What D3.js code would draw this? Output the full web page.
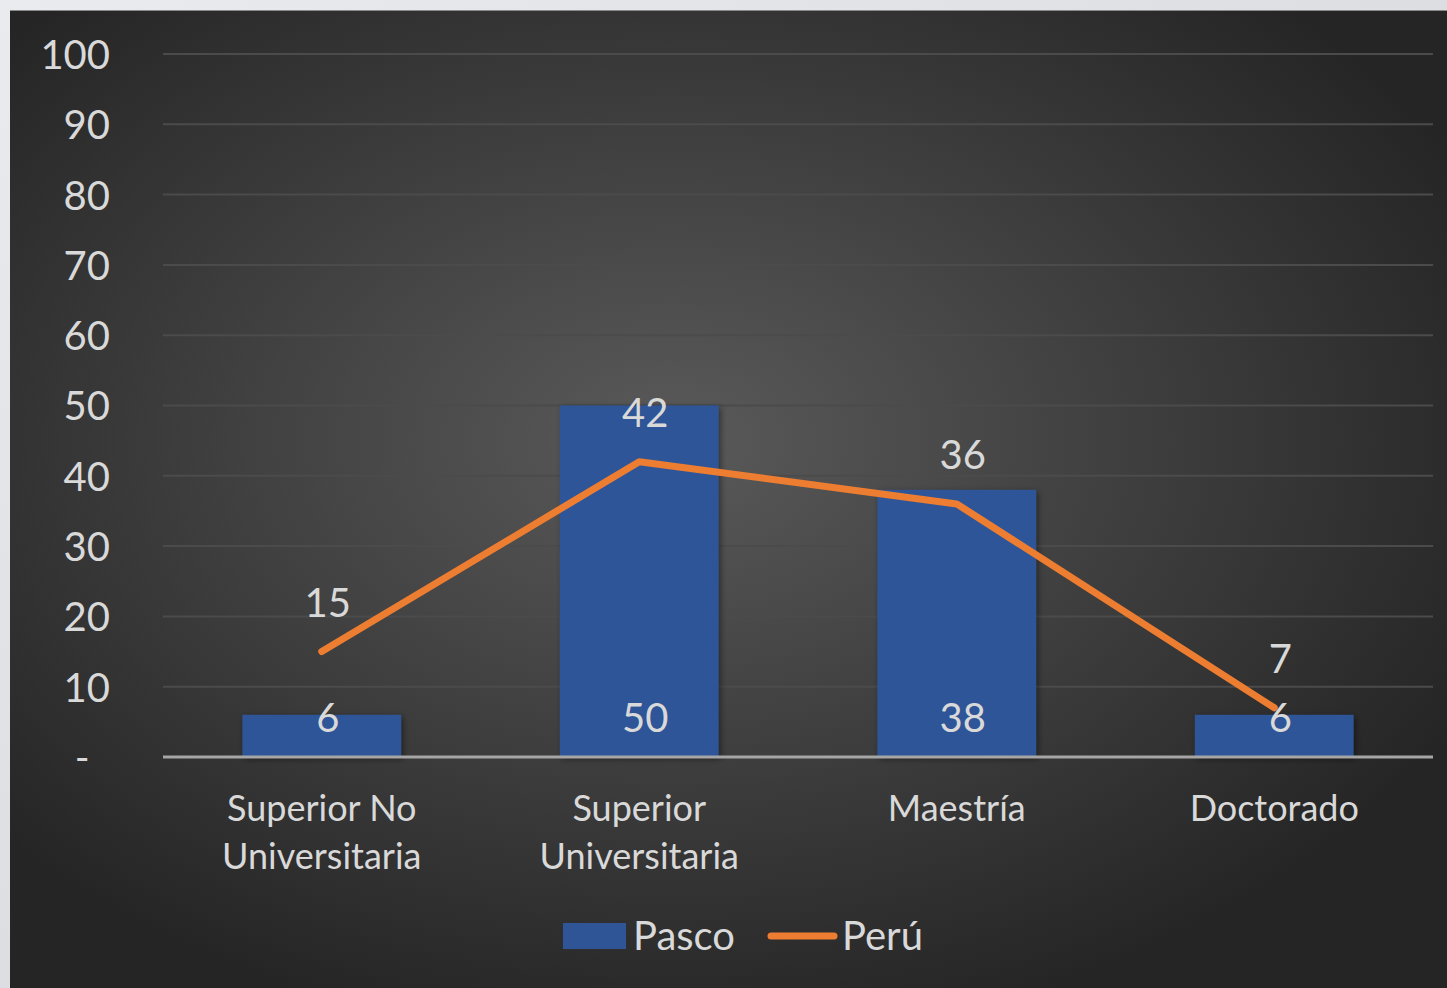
<!DOCTYPE html>
<html>
<head>
<meta charset="utf-8">
<script src="https://cdn.jsdelivr.net/npm/d3@7"></script>
<style>
  html, body { margin: 0; padding: 0; background: #e3e5e9; }
  svg { display: block; }
  text { font-family: Lato, "Open Sans", sans-serif; fill: #d9d9d9; }
</style>
</head>
<body>
<div id="chart"></div>
<script>
// chart values
var categories = [["Superior No", "Universitaria"], ["Superior", "Universitaria"], ["Maestría"], ["Doctorado"]];
var pasco = [6, 50, 38, 6];
var peru = [15, 42, 36, 7];
var yTicks = [0, 10, 20, 30, 40, 50, 60, 70, 80, 90, 100];
var seriesNames = ["Pasco", "Perú"];

var width = 1447, height = 988;
var margin = { top: 54, right: 14, bottom: 231, left: 163 };

var svg = d3.select("#chart").append("svg")
  .attr("width", width)
  .attr("height", height);

var defs = svg.append("defs");
var outer = defs.append("linearGradient").attr("id", "outerGrad")
  .attr("x1", "0%").attr("y1", "0%").attr("x2", "100%").attr("y2", "100%");
outer.append("stop").attr("offset", "0%").attr("stop-color", "#eaebee");
outer.append("stop").attr("offset", "100%").attr("stop-color", "#cfd1d6");

var rad = defs.append("radialGradient").attr("id", "panelGrad")
  .attr("cx", "46%").attr("cy", "44%").attr("r", "62%");
rad.append("stop").attr("offset", "0%").attr("stop-color", "#5a5a5a");
rad.append("stop").attr("offset", "100%").attr("stop-color", "#252525");

var shadow = defs.append("filter").attr("id", "barShadow")
  .attr("x", "-10%").attr("y", "-10%").attr("width", "125%").attr("height", "125%");
shadow.append("feDropShadow").attr("dx", 2).attr("dy", 2).attr("stdDeviation", 3)
  .attr("flood-color", "#000").attr("flood-opacity", 0.45);

// backgrounds
svg.append("rect").attr("width", width).attr("height", height).attr("fill", "url(#outerGrad)");
svg.append("rect").attr("x", 10).attr("y", 10)
  .attr("width", width - 10).attr("height", height - 10)
  .attr("fill", "url(#panelGrad)");
svg.append("line").attr("x1", 10).attr("x2", width).attr("y1", 10.5).attr("y2", 10.5)
  .attr("stroke", "#8a8a8a").attr("stroke-width", 1);

var innerW = width - margin.left - margin.right;
var innerH = height - margin.top - margin.bottom;

var x = d3.scaleBand()
  .domain(d3.range(categories.length))
  .range([0, innerW])
  .paddingInner(0.5)
  .paddingOuter(0.25);

var y = d3.scaleLinear().domain([0, 100]).range([innerH, 0]);

var g = svg.append("g").attr("transform", `translate(${margin.left},${margin.top})`);

// gridlines
g.append("g")
  .selectAll("line")
  .data(yTicks.filter(d => d > 0))
  .join("line")
  .attr("x1", 0).attr("x2", innerW)
  .attr("y1", d => y(d)).attr("y2", d => y(d))
  .attr("stroke", "#4b4b4b").attr("stroke-width", 2);

// y axis labels
var yAxis = d3.axisLeft(y).tickValues(yTicks).tickSize(0).tickPadding(53)
  .tickFormat(d => d === 0 ? "-  " : d);
g.append("g").call(yAxis)
  .call(a => a.select(".domain").remove())
  .selectAll("text")
  .attr("fill", "#d9d9d9")
  .style("font-family", "Lato, sans-serif")
  .style("font-size", "40px")
  .style("white-space", "pre")
  .attr("dy", "0.36em");

// bars
g.append("g").selectAll("rect")
  .data(pasco)
  .join("rect")
  .attr("x", (d, i) => x(i))
  .attr("y", d => y(d))
  .attr("width", x.bandwidth())
  .attr("height", d => innerH - y(d))
  .attr("fill", "#2f5597")
  .attr("filter", "url(#barShadow)");

// x axis line
g.append("line")
  .attr("x1", 0).attr("x2", innerW)
  .attr("y1", innerH).attr("y2", innerH)
  .attr("stroke", "#a6a6a6").attr("stroke-width", 3);

// category labels
var cx = i => x(i) + x.bandwidth() / 2;
var catG = g.append("g").selectAll("text")
  .data(categories)
  .join("text")
  .attr("text-anchor", "middle")
  .style("font-size", "36px");
catG.selectAll("tspan")
  .data((d, i) => d.map(t => ({ t: t, i: i })))
  .join("tspan")
  .attr("x", d => cx(d.i))
  .attr("y", (d, j) => innerH + 64 + j * 48)
  .text(d => d.t);

// Perú line
var line = d3.line().x((d, i) => cx(i)).y(d => y(d));
g.append("path")
  .datum(peru)
  .attr("d", line)
  .attr("fill", "none")
  .attr("stroke", "#ed7d31")
  .attr("stroke-width", 7)
  .attr("stroke-linejoin", "round")
  .attr("stroke-linecap", "round");

// Pasco labels (inside base)
g.append("g").selectAll("text")
  .data(pasco)
  .join("text")
  .attr("x", (d, i) => cx(i) + 6)
  .attr("y", innerH - 25)
  .attr("text-anchor", "middle")
  .style("font-size", "40px")
  .text(d => d);

// Perú labels (above)
g.append("g").selectAll("text")
  .data(peru)
  .join("text")
  .attr("x", (d, i) => cx(i) + 6)
  .attr("y", d => y(d) - 35)
  .attr("text-anchor", "middle")
  .style("font-size", "40px")
  .text(d => d);

// legend
var leg = svg.append("g");
leg.append("rect").attr("x", 563).attr("y", 923).attr("width", 63).attr("height", 26).attr("fill", "#2f5597");
leg.append("text").attr("x", 633).attr("y", 950).style("font-size", "40px").text(seriesNames[0]);
leg.append("line").attr("x1", 771).attr("x2", 834).attr("y1", 936).attr("y2", 936)
  .attr("stroke", "#ed7d31").attr("stroke-width", 7).attr("stroke-linecap", "round");
leg.append("text").attr("x", 842).attr("y", 950).style("font-size", "40px").text(seriesNames[1]);
</script>
</body>
</html>
